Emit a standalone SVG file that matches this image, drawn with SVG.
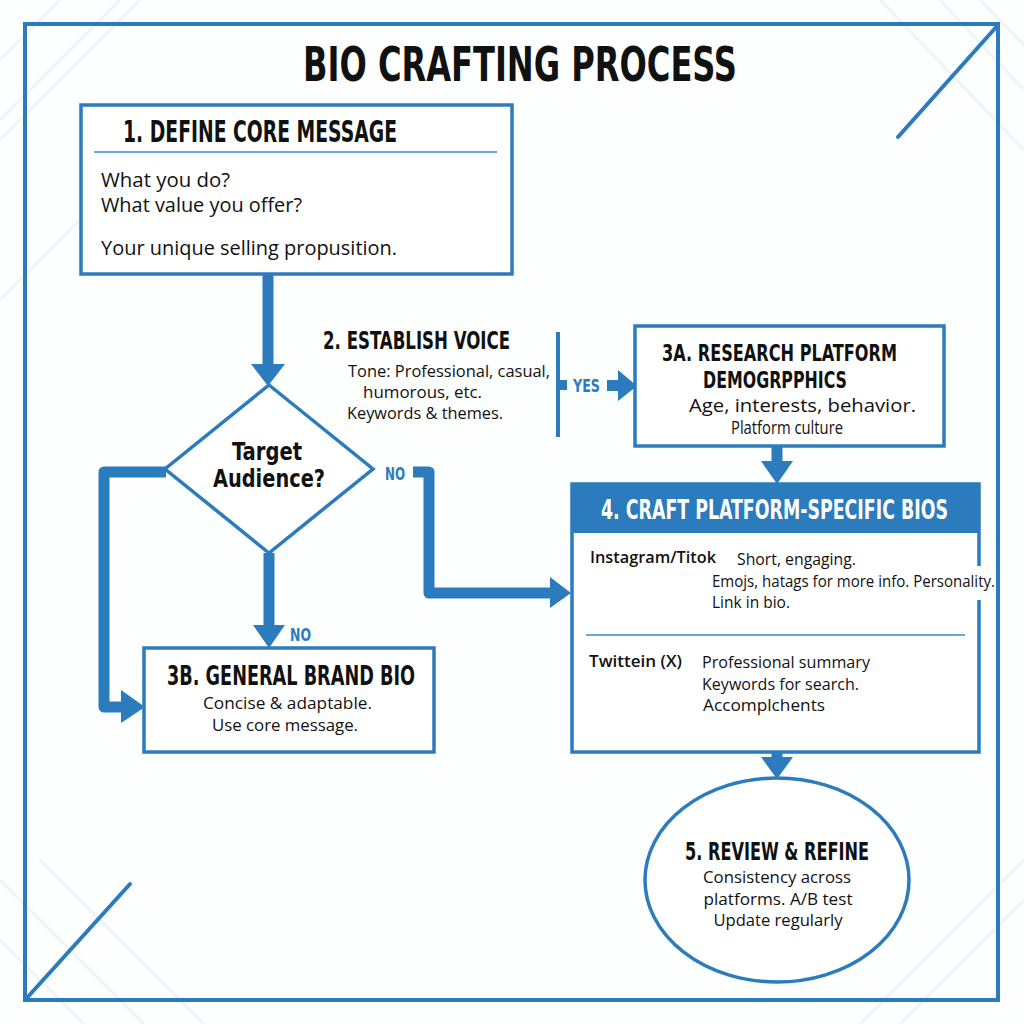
<svg xmlns="http://www.w3.org/2000/svg" width="1024" height="1024" viewBox="0 0 1024 1024">
<style>
.h{font-family:"DejaVu Sans Condensed","Liberation Sans Narrow","DejaVu Sans",sans-serif;font-weight:bold;fill:#111}
.b{font-family:"Open Sans","Liberation Sans",sans-serif;fill:#111}
.sb{font-family:"Open Sans","Liberation Sans",sans-serif;font-weight:600;fill:#111}
.lbl{font-family:"DejaVu Sans Condensed","Liberation Sans Narrow","DejaVu Sans",sans-serif;font-weight:bold;fill:#2b7bbd}
.box{fill:#fff;stroke:#2b7bbd;stroke-width:3.5}
.conn{fill:none;stroke:#2b7bbd;stroke-width:11;stroke-linejoin:round}
.head{fill:#2b7bbd}
.deco{stroke:#2b7bbd;stroke-width:4;fill:none;stroke-linecap:round}
.stripe{stroke:#edf4fa;stroke-width:3;fill:none}
.sep{stroke:#6aa6d6;stroke-width:1.8}
</style>
<rect width="1024" height="1024" fill="#fdfefe"/>
<g id="background">
<path class="stripe" d="M0,60 L60,0 M0,140 L140,0 M0,300 L100,200 M120,0 L0,120"/>
<path class="stripe" d="M880,0 L1024,150 M940,0 L1024,90 M980,0 L1024,45 M0,880 L144,1024 M0,940 L84,1024 M40,860 L204,1024 M900,1024 L1024,900 M860,1024 L1024,860"/>
</g>
<g id="frame">
<rect x="25" y="24" width="973" height="976" fill="none" stroke="#2b7bbd" stroke-width="4"/>
<line class="deco" x1="998" y1="25" x2="898" y2="137"/>
<line class="deco" x1="25" y1="1000" x2="130" y2="884"/>
</g>
<text class="h" x="520" y="81" font-size="48" text-anchor="middle" textLength="434" lengthAdjust="spacingAndGlyphs">BIO CRAFTING PROCESS</text>

<g id="connectors">
<line class="conn" x1="268" y1="275" x2="268" y2="368" stroke-width="10"/>
<polygon class="head" points="251,364 285,364 268,386"/>
<line class="conn" x1="269" y1="553" x2="269" y2="628"/>
<polygon class="head" points="253,625 285,625 269,648"/>
<text class="lbl" x="290" y="641" font-size="18" textLength="21" lengthAdjust="spacingAndGlyphs">NO</text>
<path class="conn" d="M166,472 H104 V707 H124"/>
<polygon class="head" points="121,690 121,723 145,707"/>
<text class="lbl" x="385" y="480" font-size="18" textLength="20" lengthAdjust="spacingAndGlyphs">NO</text>
<path class="conn" d="M413,472 H429 V593 H553"/>
<polygon class="head" points="550,577 550,608 571,593"/>
<line x1="558" y1="332" x2="558" y2="437" stroke="#2b7bbd" stroke-width="4"/>
<rect x="558" y="380" width="9" height="10" fill="#2b7bbd"/>
<text class="lbl" x="573" y="392" font-size="18" textLength="27" lengthAdjust="spacingAndGlyphs">YES</text>
<rect x="607" y="380" width="13" height="11" fill="#2b7bbd"/>
<polygon class="head" points="618,370 618,401 637,386"/>
<line class="conn" x1="777" y1="447" x2="777" y2="464"/>
<polygon class="head" points="761,461 793,461 777,484"/>
<line class="conn" x1="777" y1="752" x2="777" y2="760"/>
<polygon class="head" points="761,757 793,757 777,779"/>
</g>

<g id="node1">
<rect class="box" x="81" y="105" width="431" height="169"/>
<text class="h" x="123" y="142" font-size="30" textLength="274" lengthAdjust="spacingAndGlyphs">1. DEFINE CORE MESSAGE</text>
<line class="sep" x1="94" y1="152" x2="497" y2="152"/>
<text class="b" x="101" y="187" font-size="20" textLength="129" lengthAdjust="spacingAndGlyphs">What you do?</text>
<text class="b" x="101" y="212" font-size="20" textLength="201" lengthAdjust="spacingAndGlyphs">What value you offer?</text>
<text class="b" x="101" y="255" font-size="20" textLength="296" lengthAdjust="spacingAndGlyphs">Your unique selling propusition.</text>
</g>

<g id="node2">
<text class="h" x="323" y="349" font-size="24" textLength="187" lengthAdjust="spacingAndGlyphs">2. ESTABLISH VOICE</text>
<text class="b" x="348" y="377" font-size="16.5" textLength="202" lengthAdjust="spacingAndGlyphs">Tone: Professional, casual,</text>
<text class="b" x="363" y="398" font-size="16.5" textLength="119" lengthAdjust="spacingAndGlyphs">humorous, etc.</text>
<text class="b" x="347" y="419" font-size="16.5" textLength="156" lengthAdjust="spacingAndGlyphs">Keywords &amp; themes.</text>
</g>

<g id="decision">
<polygon class="box" points="269,385 373,469 269,553 165,469"/>
<text class="h" x="267" y="460" font-size="25" text-anchor="middle" textLength="70" lengthAdjust="spacingAndGlyphs">Target</text>
<text class="h" x="269" y="487" font-size="25" text-anchor="middle" textLength="112" lengthAdjust="spacingAndGlyphs">Audience?</text>
</g>

<g id="node3a">
<rect class="box" x="635" y="326" width="309" height="120"/>
<text class="h" x="662" y="361" font-size="23" textLength="235" lengthAdjust="spacingAndGlyphs">3A. RESEARCH PLATFORM</text>
<text class="h" x="703" y="388" font-size="23" textLength="144" lengthAdjust="spacingAndGlyphs">DEMOGRPPHICS</text>
<text class="b" x="689" y="412" font-size="17.5" textLength="227" lengthAdjust="spacingAndGlyphs">Age, interests, behavior.</text>
<text class="b" x="731" y="434" font-size="17.5" textLength="112" lengthAdjust="spacingAndGlyphs">Platform culture</text>
</g>

<g id="node3b">
<rect class="box" x="144" y="648" width="290" height="104"/>
<text class="h" x="167" y="685" font-size="26" textLength="248" lengthAdjust="spacingAndGlyphs">3B. GENERAL BRAND BIO</text>
<text class="b" x="203" y="709" font-size="17" textLength="169" lengthAdjust="spacingAndGlyphs">Concise &amp; adaptable.</text>
<text class="b" x="212" y="731" font-size="17" textLength="146" lengthAdjust="spacingAndGlyphs">Use core message.</text>
</g>

<g id="node4">
<rect class="box" x="572" y="484" width="407" height="268"/>
<rect x="572" y="484" width="407" height="49" fill="#2b7bbd"/>
<text class="h" x="601" y="519" font-size="26" style="fill:#fff" textLength="347" lengthAdjust="spacingAndGlyphs">4. CRAFT PLATFORM-SPECIFIC BIOS</text>
<rect x="960" y="566" width="36" height="34" fill="#fff"/>
<text class="sb" x="590" y="563" font-size="16.5" textLength="126" lengthAdjust="spacingAndGlyphs">Instagram/Titok</text>
<text class="b" x="737" y="565" font-size="16.5" textLength="119" lengthAdjust="spacingAndGlyphs">Short, engaging.</text>
<text class="b" x="712" y="587" font-size="16.5" textLength="283" lengthAdjust="spacingAndGlyphs">Emojs, hatags for more info. Personality.</text>
<text class="b" x="712" y="608" font-size="16.5" textLength="78" lengthAdjust="spacingAndGlyphs">Link in bio.</text>
<line class="sep" x1="586" y1="635" x2="965" y2="635"/>
<text class="sb" x="589" y="667" font-size="16.5" textLength="93" lengthAdjust="spacingAndGlyphs">Twittein  (X)</text>
<text class="b" x="702" y="668" font-size="16.5" textLength="168" lengthAdjust="spacingAndGlyphs">Professional summary</text>
<text class="b" x="702" y="690" font-size="16.5" textLength="157" lengthAdjust="spacingAndGlyphs">Keywords for search.</text>
<text class="b" x="703" y="711" font-size="16.5" textLength="122" lengthAdjust="spacingAndGlyphs">Accomplchents</text>
</g>

<g id="node5">
<ellipse class="box" cx="777" cy="880" rx="132" ry="102" stroke-width="4"/>
<text class="h" x="777" y="860" font-size="24" text-anchor="middle" textLength="184" lengthAdjust="spacingAndGlyphs">5. REVIEW &amp; REFINE</text>
<text class="b" x="777" y="883" font-size="16.5" text-anchor="middle" textLength="148" lengthAdjust="spacingAndGlyphs">Consistency across</text>
<text class="b" x="778" y="905" font-size="16.5" text-anchor="middle" textLength="149" lengthAdjust="spacingAndGlyphs">platforms. A/B test</text>
<text class="b" x="778" y="926" font-size="16.5" text-anchor="middle" textLength="129" lengthAdjust="spacingAndGlyphs">Update regularly</text>
</g>
</svg>
